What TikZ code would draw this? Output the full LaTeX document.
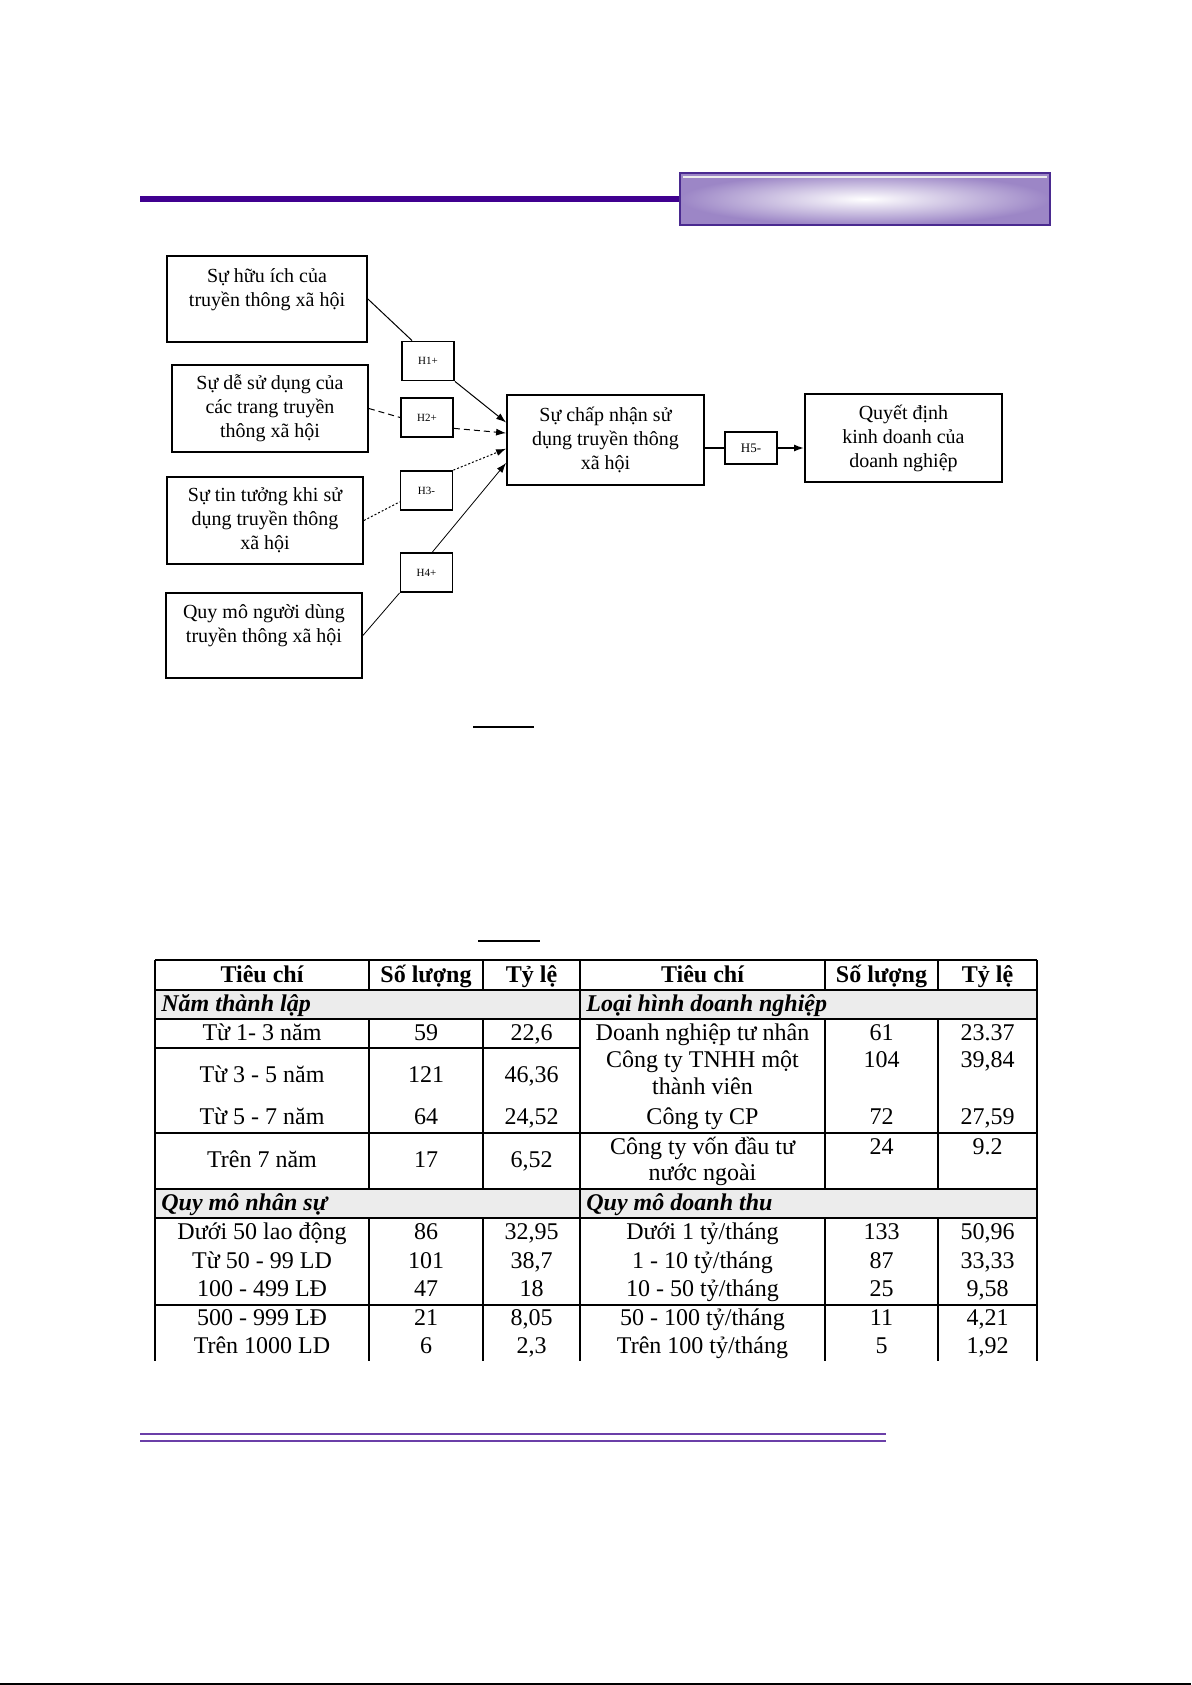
\documentclass[tikz,border=0pt]{standalone}
\usepackage{fontspec}
\setmainfont{Liberation Serif}
\usetikzlibrary{arrows.meta,calc}
\definecolor{hdrline}{HTML}{400090}
\definecolor{hdrborder}{HTML}{4A2A90}
\definecolor{hdrouter}{HTML}{9C86C6}
\definecolor{footline}{HTML}{6B3FA8}
\definecolor{secfill}{HTML}{ECECEC}
\begin{document}
\begin{tikzpicture}[x=0.5pt,y=-0.5pt,
  box/.style={draw,line width=0.9pt,inner sep=0pt,align=center,font=\fontsize{10}{12}\selectfont},
  btext/.style={inner sep=0pt,align=center,font=\fontsize{10}{12}\selectfont},
  hbox/.style={draw,line width=0.9pt,inner sep=0pt,minimum width=26pt,minimum height=19.5pt,font=\fontsize{5.5}{6}\selectfont},
  conn/.style={line width=0.5pt},
  arr/.style={conn,-{Latex[length=5pt,width=3.5pt]}},
  tline/.style={line width=0.7pt},
  tcell/.style={inner sep=0pt,anchor=center,text height=8.5pt,text depth=2.5pt,font=\fontsize{12}{14}\selectfont},
  thead/.style={tcell,font=\fontsize{12}{14}\selectfont\bfseries},
  tsec/.style={tcell,anchor=west,font=\fontsize{12}{14}\selectfont\bfseries\itshape}
]
\useasboundingbox (0,0) rectangle (1191,1685);

% ---------- header ----------
\draw[hdrline,line width=3pt] (140,199) -- (680,199);
\shade[inner color=white,outer color=hdrouter] (680,173) rectangle (1050,225);
\draw[white!85!gray,line width=0.8pt] (683,177) -- (1047,177);
\draw[hdrborder,line width=0.9pt] (680,173) rectangle (1050,225);

% ---------- diagram ----------
\node[box,minimum width=100pt,minimum height=43pt] (b1) at (267,299) {};
\node[btext] (b1t) at (267,289.5) {Sự hữu ích của\\truyền thông xã hội};
\node[box,minimum width=98pt,minimum height=43.5pt] (b2) at (270,408.5) {Sự dễ sử dụng của\\các trang truyền\\thông xã hội};
\node[box,minimum width=98pt,minimum height=43.5pt] (b3) at (265,520.5) {Sự tin tưởng khi sử\\dụng truyền thông\\xã hội};
\node[box,minimum width=98pt,minimum height=42.5pt] (b4) at (264,635.5) {};
\node[btext] (b4t) at (264,626) {Quy mô người dùng\\truyền thông xã hội};

\node[box,minimum width=98.5pt,minimum height=45pt] (c) at (605.5,440) {Sự chấp nhận sử\\dụng truyền thông\\xã hội};
\node[box,minimum width=98.5pt,minimum height=44pt] (f) at (903.5,438) {Quyết định\\kinh doanh của\\doanh nghiệp};

\node[hbox] (h1) at (428,361) {H1+};
\node[hbox] (h2) at (427,417.5) {H2+};
\node[hbox] (h3) at (426.5,490.5) {H3-};
\node[hbox] (h4) at (426.5,572.5) {H4+};
\node[hbox,minimum height=16pt,font=\fontsize{6.5}{7}\selectfont] (h5) at (751,448) {H5-};

\draw[conn] (b1.east) -- (h1.128);
\draw[arr] (h1.south east) -- (c.170);
\draw[conn,dash pattern=on 3pt off 2pt] (b2.east) -- (h2.west);
\draw[arr,dash pattern=on 3pt off 2pt] (h2.-22) -- (c.176);
\draw[conn,dash pattern=on 1pt off 1pt] (b3.east) -- (h3.203);
\draw[arr,dash pattern=on 1pt off 1pt] (h3.north east) -- (c.185);
\draw[conn,line width=0.4pt] (b4.east) -- (h4.south west);
\draw[arr,line width=0.4pt] (h4.74) -- (c.193);
\draw[conn,line width=0.8pt] (h5.west -| c.east) -- (h5.west);
\draw[arr,line width=0.8pt] (h5.east) -- (h5.east -| f.west);

% ---------- short rules ----------
\draw[line width=1pt] (473,727) -- (534,727);
\draw[line width=1pt] (478,941) -- (540,941);

% ---------- table ----------
\fill[secfill] (155,990) rectangle (1037,1019);
\fill[secfill] (155,1189) rectangle (1037,1218);
\foreach \yy in {960,990,1019,1133,1189,1218,1305}
  \draw[tline] (155,\yy) -- (1037,\yy);
\draw[tline] (155,1048) -- (580,1048);
\foreach \xx in {155,580,1037}
  \draw[tline] (\xx,960) -- (\xx,1361);
\foreach \xx in {369,483,825,938}{
  \draw[tline] (\xx,960) -- (\xx,990);
  \draw[tline] (\xx,1019) -- (\xx,1189);
  \draw[tline] (\xx,1218) -- (\xx,1361);
}

\node[thead] (th1) at (262,976) {Tiêu chí};
\node[thead] (th2) at (426,976) {Số lượng};
\node[thead] (th3) at (531.5,976) {Tỷ lệ};
\node[thead] (th4) at (702.5,976) {Tiêu chí};
\node[thead] (th5) at (881.5,976) {Số lượng};
\node[thead] (th6) at (987.5,976) {Tỷ lệ};

\node[tsec] (s1) at (161,1005) {Năm thành lập};
\node[tsec] (s2) at (586,1005) {Loại hình doanh nghiệp};
\node[tsec] (s3) at (161,1204) {Quy mô nhân sự};
\node[tsec] (s4) at (586,1204) {Quy mô doanh thu};

\node[tcell] (a1) at (262,1034) {Từ 1- 3 năm};
\node[tcell] (a2) at (426,1034) {59};
\node[tcell] (a3) at (531.5,1034) {22,6};
\node[tcell] (a4) at (702.5,1034) {Doanh nghiệp tư nhân};
\node[tcell] (a5) at (881.5,1034) {61};
\node[tcell] (a6) at (987.5,1034) {23.37};

\node[tcell] (b1a) at (262,1076) {Từ 3 - 5 năm};
\node[tcell] (b2a) at (426,1076) {121};
\node[tcell] (b3a) at (531.5,1076) {46,36};
\node[tcell] (b4a) at (702.5,1061) {Công ty TNHH một};
\node[tcell] (b4b) at (702.5,1088) {thành viên};
\node[tcell] (b5a) at (881.5,1061) {104};
\node[tcell] (b6a) at (987.5,1061) {39,84};

\node[tcell] (c1) at (262,1118) {Từ 5 - 7 năm};
\node[tcell] (c2) at (426,1118) {64};
\node[tcell] (c3) at (531.5,1118) {24,52};
\node[tcell] (c4) at (702.5,1118) {Công ty CP};
\node[tcell] (c5) at (881.5,1118) {72};
\node[tcell] (c6) at (987.5,1118) {27,59};

\node[tcell] (d1) at (262,1161) {Trên 7 năm};
\node[tcell] (d2) at (426,1161) {17};
\node[tcell] (d3) at (531.5,1161) {6,52};
\node[tcell] (d4a) at (702.5,1148) {Công ty vốn đầu tư};
\node[tcell] (d4b) at (702.5,1174) {nước ngoài};
\node[tcell] (d5) at (881.5,1148) {24};
\node[tcell] (d6) at (987.5,1148) {9.2};

\node[tcell] (e1) at (262,1233) {Dưới 50 lao động};
\node[tcell] (e2) at (426,1233) {86};
\node[tcell] (e3) at (531.5,1233) {32,95};
\node[tcell] (e4) at (702.5,1233) {Dưới 1 tỷ/tháng};
\node[tcell] (e5) at (881.5,1233) {133};
\node[tcell] (e6) at (987.5,1233) {50,96};

\node[tcell] (g1) at (262,1262) {Từ 50 - 99 LD};
\node[tcell] (g2) at (426,1262) {101};
\node[tcell] (g3) at (531.5,1262) {38,7};
\node[tcell] (g4) at (702.5,1262) {1 - 10 tỷ/tháng};
\node[tcell] (g5) at (881.5,1262) {87};
\node[tcell] (g6) at (987.5,1262) {33,33};

\node[tcell] (k1) at (262,1290) {100 - 499 LĐ};
\node[tcell] (k2) at (426,1290) {47};
\node[tcell] (k3) at (531.5,1290) {18};
\node[tcell] (k4) at (702.5,1290) {10 - 50 tỷ/tháng};
\node[tcell] (k5) at (881.5,1290) {25};
\node[tcell] (k6) at (987.5,1290) {9,58};

\node[tcell] (m1) at (262,1319) {500 - 999 LĐ};
\node[tcell] (m2) at (426,1319) {21};
\node[tcell] (m3) at (531.5,1319) {8,05};
\node[tcell] (m4) at (702.5,1319) {50 - 100 tỷ/tháng};
\node[tcell] (m5) at (881.5,1319) {11};
\node[tcell] (m6) at (987.5,1319) {4,21};

\node[tcell] (n1) at (262,1347) {Trên 1000 LD};
\node[tcell] (n2) at (426,1347) {6};
\node[tcell] (n3) at (531.5,1347) {2,3};
\node[tcell] (n4) at (702.5,1347) {Trên 100 tỷ/tháng};
\node[tcell] (n5) at (881.5,1347) {5};
\node[tcell] (n6) at (987.5,1347) {1,92};

% ---------- footer ----------
\draw[footline,line width=1.3pt] (140,1434) -- (886,1434);
\draw[footline,line width=1.3pt] (140,1441) -- (886,1441);
\draw[black,line width=1pt] (0,1684) -- (1191,1684);
\end{tikzpicture}
\end{document}
